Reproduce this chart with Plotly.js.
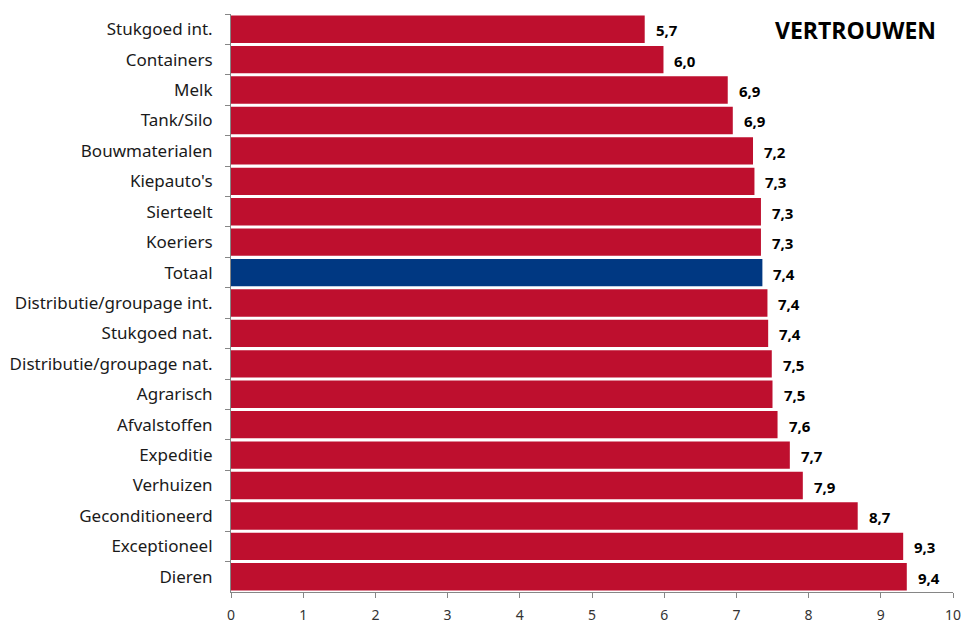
<!DOCTYPE html>
<html>
<head>
<meta charset="utf-8">
<script src="https://cdn.plot.ly/plotly-3.0.1.min.js"></script>
<style>html,body{margin:0;padding:0;background:#fff;}#chart{width:975px;height:635px;}</style>
</head>
<body>
<div id="chart"></div>
<script>
const categories = ["Stukgoed int.","Containers","Melk","Tank/Silo","Bouwmaterialen","Kiepauto's","Sierteelt","Koeriers","Totaal","Distributie/groupage int.","Stukgoed nat.","Distributie/groupage nat.","Agrarisch","Afvalstoffen","Expeditie","Verhuizen","Geconditioneerd","Exceptioneel","Dieren"];
const values = [5.73,5.99,6.88,6.95,7.23,7.25,7.34,7.34,7.36,7.43,7.44,7.49,7.50,7.57,7.74,7.92,8.68,9.31,9.36];
const valueLabels = ["5,7","6,0","6,9","6,9","7,2","7,3","7,3","7,3","7,4","7,4","7,4","7,5","7,5","7,6","7,7","7,9","8,7","9,3","9,4"];
const xTicks = [0,1,2,3,4,5,6,7,8,9,10];
const chartTitle = "VERTROUWEN";
const highlight = "Totaal";

const colors = categories.map(c => c === highlight ? "#003882" : "#BE0F2E");

const trace = {
  type: "bar",
  orientation: "h",
  y: categories,
  x: values,
  marker: {color: colors, line: {width: 0}},
  hoverinfo: "none"
};

const annotations = categories.map((c, i) => ({
  x: values[i], y: c, xref: "x", yref: "y",
  text: valueLabels[i], showarrow: false,
  xanchor: "left", yanchor: "middle", xshift: 9, yshift: -1,
  font: {family: "Open Sans, sans-serif", size: 15, color: "#000", weight: "bold"}
}));
annotations.push({
  x: 1, y: 1, xref: "paper", yref: "paper",
  text: "<b>" + chartTitle + "</b>", showarrow: false,
  xanchor: "right", yanchor: "top", xshift: -15, yshift: 2,
  font: {family: "Open Sans, sans-serif", size: 23, color: "#000"}
});

const layout = {
  width: 975, height: 635,
  margin: {l: 231, r: 22, t: 14, b: 43},
  paper_bgcolor: "#fff", plot_bgcolor: "#fff",
  bargap: 0.1,
  showlegend: false,
  xaxis: {
    range: [0, 10], tickvals: xTicks, ticktext: xTicks.map(String),
    showgrid: false, zeroline: false,
    showline: true, linecolor: "#868686", linewidth: 1,
    ticks: "outside", ticklen: 5, tickcolor: "#868686",
    ticklabelstandoff: 5,
    tickfont: {family: "Noto Sans, sans-serif", size: 14, color: "#333"},
    fixedrange: true
  },
  yaxis: {
    type: "category", autorange: "reversed",
    showgrid: false, zeroline: false,
    showline: true, linecolor: "#868686", linewidth: 1,
    ticks: "outside", ticklen: 5, tickcolor: "#868686", tickson: "boundaries",
    ticklabelstandoff: 14,
    tickfont: {family: "Noto Sans, sans-serif", size: 17, color: "#1a1a1a"},
    fixedrange: true
  },
  annotations: annotations
};

Plotly.newPlot("chart", [trace], layout, {displayModeBar: false, staticPlot: true});
</script>
</body>
</html>
